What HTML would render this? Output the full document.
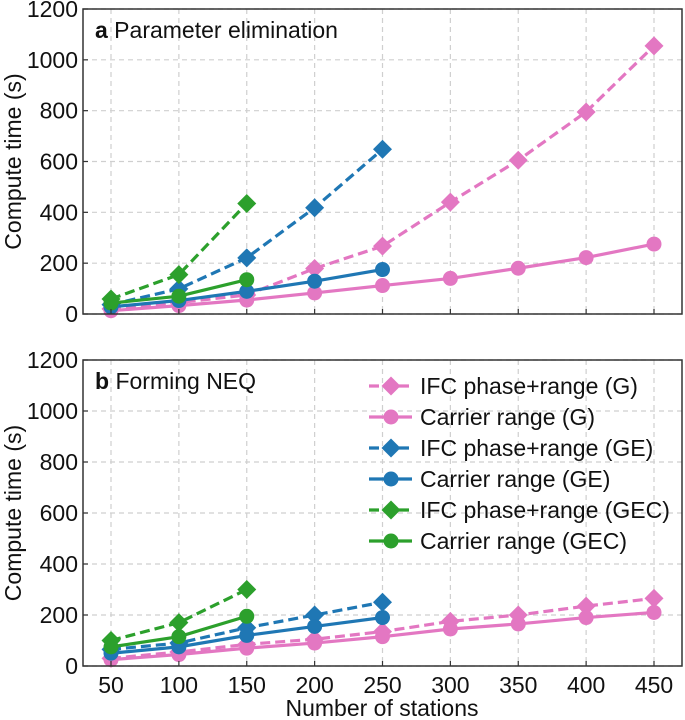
<!DOCTYPE html>
<html><head><meta charset="utf-8"><style>
body{margin:0;background:#fff;}
svg{display:block;font-family:"Liberation Sans",Arial,sans-serif;}
</style></head><body>
<svg id="chart" width="685" height="720"></svg>
<script>
const stations=[50,100,150,200,250,300,350,400,450];
const xTicks=[50,100,150,200,250,300,350,400,450];
const yTicks=[0,200,400,600,800,1000,1200];
// panel a: parameter elimination
const aIfcG=[20,45,75,179,267,440,605,795,1055];
const aCarG=[13,33,55,83,112,140,180,222,275];
const aIfcGE=[37,99,221,418,648];
const aCarGE=[28,53,89,129,175];
const aIfcGEC=[59,155,435];
const aCarGEC=[43,70,135];
// panel b: forming NEQ
const bIfcG=[30,55,85,105,135,175,200,235,265];
const bCarG=[25,45,70,90,115,145,165,190,210];
const bIfcGE=[65,90,150,200,250];
const bCarGE=[50,75,120,155,190];
const bIfcGEC=[100,170,300];
const bCarGEC=[75,115,195];
const seriesNames=["IFC phase+range (G)","Carrier range (G)","IFC phase+range (GE)","Carrier range (GE)","IFC phase+range (GEC)","Carrier range (GEC)"];
const colors=["#e377c2","#e377c2","#1f77b4","#1f77b4","#2ca02c","#2ca02c"];

const NS="http://www.w3.org/2000/svg";
const svg=document.getElementById('chart');
function mk(tag,attrs,parent){const e=document.createElementNS(NS,tag);for(const k in attrs)e.setAttribute(k,attrs[k]);(parent||svg).appendChild(e);return e;}
const L=83,R=682,FS=23;
function xs(v){return 111+(v-50)*(654-111)/400;}

function marker(g,x,y,dashed,c){
  if(dashed){const s=9.5;return mk('polygon',{points:`${x},${y-s} ${x+s},${y} ${x},${y+s} ${x-s},${y}`,fill:c},g);}
  return mk('circle',{cx:x,cy:y,r:7.5,fill:c},g);
}

function panel(top,bottom,label,title,data,key,showX){
  const ys=v=>bottom-v*(bottom-top)/1200;
  const g=mk('g',{});
  
  
  xTicks.forEach(t=>{const l=mk('line',{x1:xs(t),x2:xs(t),y1:top,y2:bottom,stroke:'#cfcfcf','stroke-dasharray':'5,4','stroke-width':1.2},g);});
  yTicks.forEach(t=>{const l=mk('line',{x1:L,x2:R,y1:ys(t),y2:ys(t),stroke:'#cfcfcf','stroke-dasharray':'5,4','stroke-width':1.2},g);});
  data.forEach((d,i)=>{
    const dashed=i%2===0;
    const sg=mk('g',{},g);
    
    
    const pts=d.map((v,j)=>xs(stations[j])+','+ys(v)).join(' ');
    mk('polyline',{points:pts,fill:'none',stroke:colors[i],'stroke-width':3.2,'stroke-dasharray':dashed?'10,5':'none'},sg);
    d.forEach((v,j)=>{const m=marker(sg,xs(stations[j]),ys(v),dashed,colors[i]);});
  });
  const f=mk('rect',{x:L,y:top,width:R-L,height:bottom-top,fill:'none',stroke:'#333','stroke-width':1.5},g);
  
  yTicks.forEach(t=>{
    mk('line',{x1:L,x2:L+5,y1:ys(t),y2:ys(t),stroke:'#333','stroke-width':1.2},g);
    const tx=mk('text',{x:L-5,y:ys(t)+8,'text-anchor':'end','font-size':FS,fill:'#111'},g);tx.textContent=t;
    
  });
  xTicks.forEach(t=>{
    mk('line',{x1:xs(t),x2:xs(t),y1:bottom,y2:bottom-5,stroke:'#333','stroke-width':1.2},g);
    if(showX){const tx=mk('text',{x:xs(t),y:bottom+27,'text-anchor':'middle','font-size':FS,fill:'#111'},g);tx.textContent=t;
    }
  });
  const yl=mk('text',{x:0,y:0,transform:`translate(21,${(top+bottom)/2}) rotate(-90)`,'text-anchor':'middle','font-size':FS,fill:'#111'},g);
  yl.textContent='Compute time (s)';
  const tt=mk('text',{x:95,y:top+29,'font-size':FS,fill:'#111'},g);
  tt.innerHTML=`<tspan font-weight="bold">${label}</tspan> ${title}`;
  
  return ys;
}
panel(9,314,'a','Parameter elimination',[aIfcG,aCarG,aIfcGE,aCarGE,aIfcGEC,aCarGEC],'a',false);
panel(360,666,'b','Forming NEQ',[bIfcG,bCarG,bIfcGE,bCarGE,bIfcGEC,bCarGEC],'b',true);

const xl=mk('text',{x:382,y:716,'text-anchor':'middle','font-size':FS,fill:'#111'});
xl.textContent='Number of stations';



const lg=mk('g',{});


seriesNames.forEach((n,i)=>{
  const y=386+i*31, dashed=i%2===0;
  const eg=mk('g',{},lg);
  
  
  mk('line',{x1:369,x2:412,y1:y,y2:y,stroke:colors[i],'stroke-width':3.2,'stroke-dasharray':dashed?'10,5':'none'},eg);
  marker(eg,391,y,dashed,colors[i]);
  const t=mk('text',{x:420,y:y+8,'font-size':FS,fill:'#111'},eg);t.textContent=n;
});
</script>
</body></html>
